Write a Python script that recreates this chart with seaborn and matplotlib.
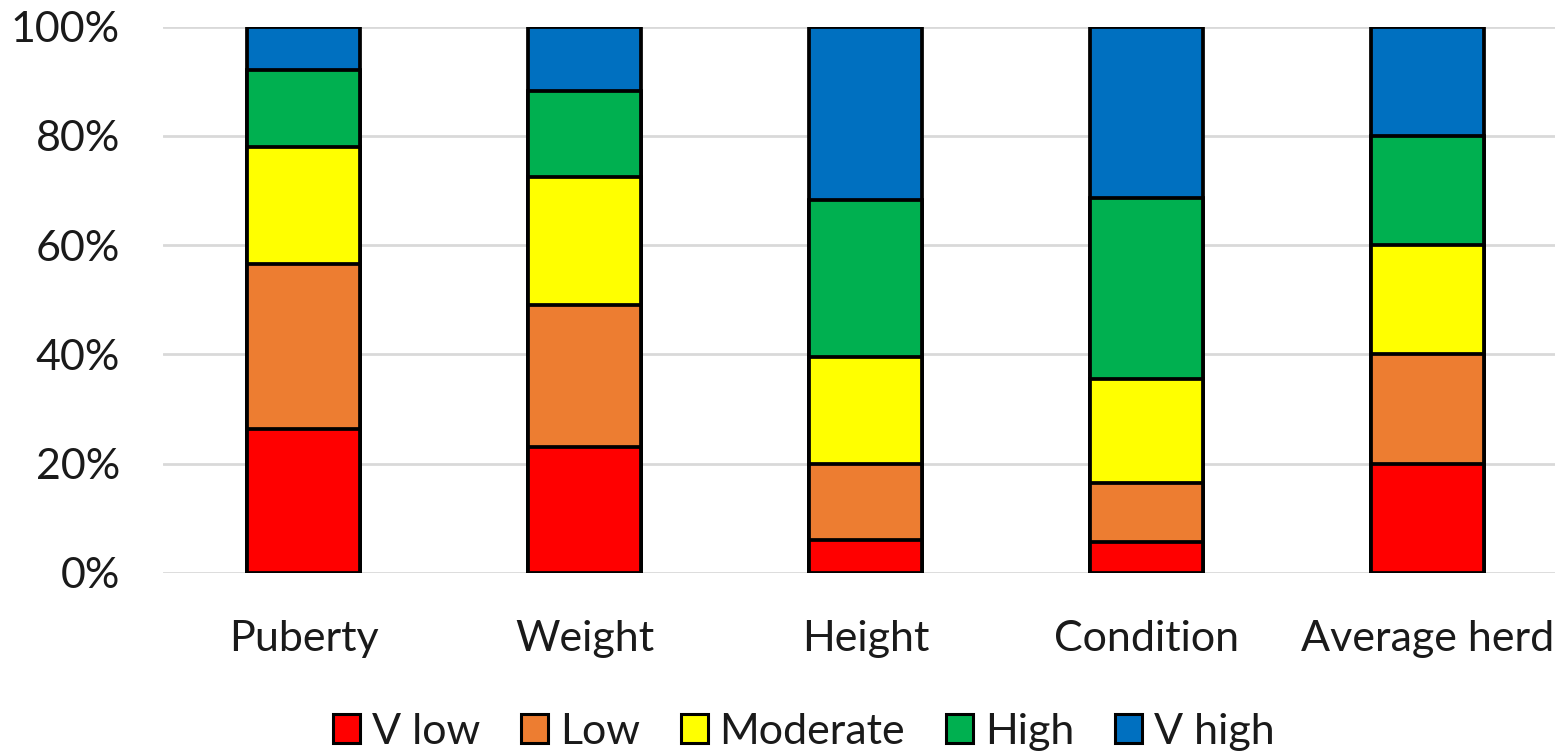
import matplotlib
matplotlib.use("Agg")
import matplotlib.pyplot as plt
import matplotlib.patches as mpatches
import numpy as np
import pandas as pd
import seaborn as sns

# Share of animals in each rating class, per trait (percent)
categories = ["Puberty", "Weight", "Height", "Condition", "Average herd"]
levels = ["V low", "Low", "Moderate", "High", "V high"]
v_low = [26.4, 23.0, 6.0, 5.6, 20.0]
low = [30.2, 26.1, 14.0, 10.9, 20.0]
moderate = [21.4, 23.3, 19.5, 19.0, 20.0]
high = [14.1, 15.8, 28.8, 33.1, 20.0]
v_high = [7.9, 11.8, 31.7, 31.4, 20.0]
colors = ["#ff0000", "#ed7d31", "#ffff00", "#00b050", "#0070c0"]
y_ticks = [0, 20, 40, 60, 80, 100]
y_tick_labels = ["0%", "20%", "40%", "60%", "80%", "100%"]

sns.set_theme(style="white")
plt.rcParams["font.family"] = ["Lato", "DejaVu Sans"]

df = pd.DataFrame({"category": categories, "V low": v_low, "Low": low,
                   "Moderate": moderate, "High": high, "V high": v_high})
cum = df[levels].cumsum(axis=1)

fig = plt.figure(figsize=(15.55, 7.52), dpi=100)
ax = fig.add_axes([163 / 1555, 179 / 752, 1405 / 1555, 546.3 / 752])

# Stacked bars: draw cumulative totals from the top class down
for level, color in reversed(list(zip(levels, colors))):
    sns.barplot(x=df["category"], y=cum[level], color=color, width=0.4,
                edgecolor="black", linewidth=2.7, ax=ax, zorder=3,
                saturation=1)

ax.set_ylim(0, 100)
ax.set_yticks(y_ticks)
ax.set_yticklabels(y_tick_labels)
ax.yaxis.grid(True, color="#d9d9d9", linewidth=2.0, zorder=0)
ax.set_axisbelow(True)
for s in ax.spines.values():
    s.set_visible(False)
ax.set_xlabel("")
ax.set_ylabel("")
ax.tick_params(axis="both", length=0, labelsize=31, colors="#1a1a1a")
ax.tick_params(axis="y", pad=31)
ax.tick_params(axis="x", pad=34)

handles = [mpatches.Patch(facecolor=c, edgecolor="black", linewidth=2.2, label=l)
           for l, c in zip(levels, colors)]
fig.legend(handles=handles, loc="center", bbox_to_anchor=(0.517, 0.027), ncol=5,
           frameon=False, fontsize=31, handlelength=0.62, handleheight=0.68,
           handletextpad=0.28, columnspacing=0.95, labelcolor="#1a1a1a",
           borderpad=0.1)

fig.savefig("out.png", dpi=100)
